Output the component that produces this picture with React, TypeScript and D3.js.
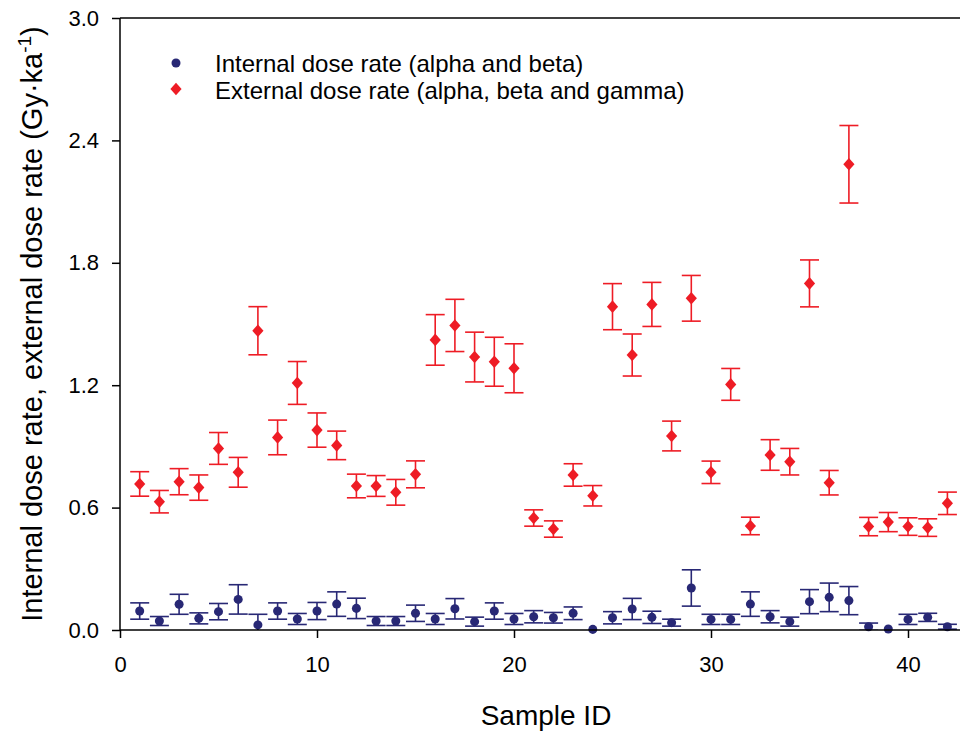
import React, { useEffect, useRef } from 'react';
import * as d3 from 'd3';

// sample ids 1..42
const sampleIds = [
  1, 2, 3, 4, 5, 6, 7, 8, 9, 10, 11, 12, 13, 14, 15, 16, 17, 18, 19, 20, 21,
  22, 23, 24, 25, 26, 27, 28, 29, 30, 31, 32, 33, 34, 35, 36, 37, 38, 39, 40, 41, 42,
];

const internalRate = [
  0.093, 0.044, 0.126, 0.057, 0.09, 0.15, 0.025, 0.093, 0.054, 0.093, 0.127, 0.106, 0.044, 0.044,
  0.082, 0.054, 0.104, 0.041, 0.093, 0.054, 0.065, 0.06, 0.082, 0.003, 0.06, 0.103, 0.062, 0.036,
  0.206, 0.052, 0.052, 0.127, 0.065, 0.041, 0.139, 0.16, 0.144, 0.016, 0.005, 0.052, 0.062, 0.016,
];
const internalErr = [
  0.04, 0.022, 0.049, 0.027, 0.04, 0.072, 0.052, 0.04, 0.027, 0.042, 0.06, 0.05, 0.022, 0.022,
  0.04, 0.027, 0.05, 0.022, 0.04, 0.027, 0.03, 0.026, 0.031, 0.0, 0.03, 0.052, 0.03, 0.017,
  0.089, 0.025, 0.025, 0.06, 0.03, 0.022, 0.059, 0.07, 0.069, 0.018, 0.004, 0.025, 0.02, 0.012,
];

const externalRate = [
  0.716, 0.629, 0.727, 0.698, 0.89, 0.773, 1.467, 0.944, 1.211, 0.98, 0.905, 0.706, 0.706, 0.675,
  0.763, 1.422, 1.493, 1.338, 1.315, 1.283, 0.549, 0.495, 0.76, 0.658, 1.585, 1.348, 1.596, 0.951,
  1.626, 0.773, 1.204, 0.51, 0.858, 0.825, 1.699, 0.722, 2.283, 0.507, 0.529, 0.507, 0.502, 0.621,
];
const externalErr = [
  0.06, 0.055, 0.064, 0.062, 0.078, 0.073, 0.118, 0.085, 0.105, 0.084, 0.07, 0.058, 0.051, 0.063,
  0.066, 0.124, 0.128, 0.122, 0.12, 0.12, 0.04, 0.04, 0.055, 0.05, 0.113, 0.103, 0.108, 0.073,
  0.112, 0.055, 0.078, 0.043, 0.075, 0.065, 0.115, 0.06, 0.19, 0.045, 0.047, 0.043, 0.043, 0.055,
];

const yTicks = [0, 0.6, 1.2, 1.8, 2.4, 3.0];
const xTicks = [0, 10, 20, 30, 40];

const legendLabels = [
  'Internal dose rate (alpha and beta)',
  'External dose rate (alpha, beta and gamma)',
];

const NAVY = '#282875';
const RED = '#ee1c25';
const FONT = '"Liberation Sans", Arial, sans-serif';

const W = 960, H = 733;
const left = 120, top = 18, bottom = 630;

// squarer diamond than d3.symbolDiamond
const diamondPath = 'M0,-6.3L5.6,0L0,6.3L-5.6,0Z';

export default function App() {
  const xAxisRef = useRef<SVGGElement>(null);
  const yAxisRef = useRef<SVGGElement>(null);

  const x = d3.scaleLinear().domain([0, 45]).range([left, left + 45 * 19.7]);
  const y = d3.scaleLinear().domain([0, 3]).range([bottom, top]);

  useEffect(() => {
    const xa = d3.axisBottom(x).tickValues(xTicks).tickSize(8).tickPadding(18).tickFormat(d3.format('d'));
    const ya = d3.axisLeft(y).tickValues(yTicks).tickSize(8).tickPadding(13).tickFormat(d3.format('.1f'));
    const gx = d3.select(xAxisRef.current);
    gx.call(xa as any);
    const gy = d3.select(yAxisRef.current);
    gy.call(ya as any);
    [gx, gy].forEach(g => {
      g.select('.domain').remove();
      g.selectAll('.tick line').attr('stroke', '#000').attr('stroke-width', 1.5);
      g.selectAll('.tick text')
        .attr('fill', '#000')
        .style('font-family', FONT)
        .style('font-size', '22px');
    });
  }, []);

  const series = [
    { vals: internalRate, errs: internalErr, color: NAVY, shape: 'circle' },
    { vals: externalRate, errs: externalErr, color: RED, shape: 'diamond' },
  ];

  const circlePath = d3.symbol().type(d3.symbolCircle).size(64)() as string;
  const cap = 9.5;

  return (
    <svg width={W} height={H} style={{ position: 'absolute', left: 0, top: 0, background: '#fff' }}>
      <defs>
        <clipPath id="plot">
          <rect x={left} y={top} width={W - left} height={bottom - top} />
        </clipPath>
      </defs>

      {/* error bars */}
      <g clipPath="url(#plot)">
        {series.map((s, si) => (
          <g key={si} stroke={s.color} strokeWidth={1.6} fill="none">
            {sampleIds.map((id, i) => {
              const e = s.errs[i];
              if (e < 0.006) return null;
              const cx = x(id);
              const y1 = y(s.vals[i] + e);
              const y2 = y(s.vals[i] - e);
              return (
                <g key={i}>
                  <line x1={cx} x2={cx} y1={y1} y2={y2} />
                  <line x1={cx - cap} x2={cx + cap} y1={y1} y2={y1} />
                  <line x1={cx - cap} x2={cx + cap} y1={y2} y2={y2} />
                </g>
              );
            })}
          </g>
        ))}
      </g>

      {/* markers */}
      {series.map((s, si) => (
        <g key={'m' + si} fill={s.color}>
          {sampleIds.map((id, i) => (
            <path
              key={i}
              transform={`translate(${x(id)},${y(s.vals[i])})`}
              d={s.shape === 'diamond' ? diamondPath : circlePath}
            />
          ))}
        </g>
      ))}

      {/* frame */}
      <line x1={left} x2={W} y1={top} y2={top} stroke="#000" strokeWidth={1.5} />
      <line x1={left} x2={left} y1={top} y2={bottom} stroke="#000" strokeWidth={1.5} />
      <line x1={left} x2={W} y1={bottom} y2={bottom} stroke="#000" strokeWidth={1.5} />

      <g ref={xAxisRef} transform={`translate(0,${bottom})`} />
      <g ref={yAxisRef} transform={`translate(${left},0)`} />

      {/* legend */}
      <g style={{ fontFamily: FONT, fontSize: '24px' }}>
        <path transform="translate(176,63)" d={circlePath} fill={NAVY} />
        <text x={215} y={72} fill="#000">{legendLabels[0]}</text>
        <path transform="translate(176,89)" d={diamondPath} fill={RED} />
        <text x={215} y={99} fill="#000">{legendLabels[1]}</text>
      </g>

      {/* axis titles */}
      <text x={546} y={725} textAnchor="middle" style={{ fontFamily: FONT, fontSize: '28px' }} fill="#000">
        Sample ID
      </text>
      <text
        transform={`translate(42,${(top + bottom) / 2}) rotate(-90)`}
        textAnchor="middle"
        style={{ fontFamily: FONT, fontSize: '29px' }}
        fill="#000"
      >
        Internal dose rate, external dose rate (Gy·ka
        <tspan dy={-11} fontSize="19px">-1</tspan>
        <tspan dy={11}>)</tspan>
      </text>
    </svg>
  );
}
